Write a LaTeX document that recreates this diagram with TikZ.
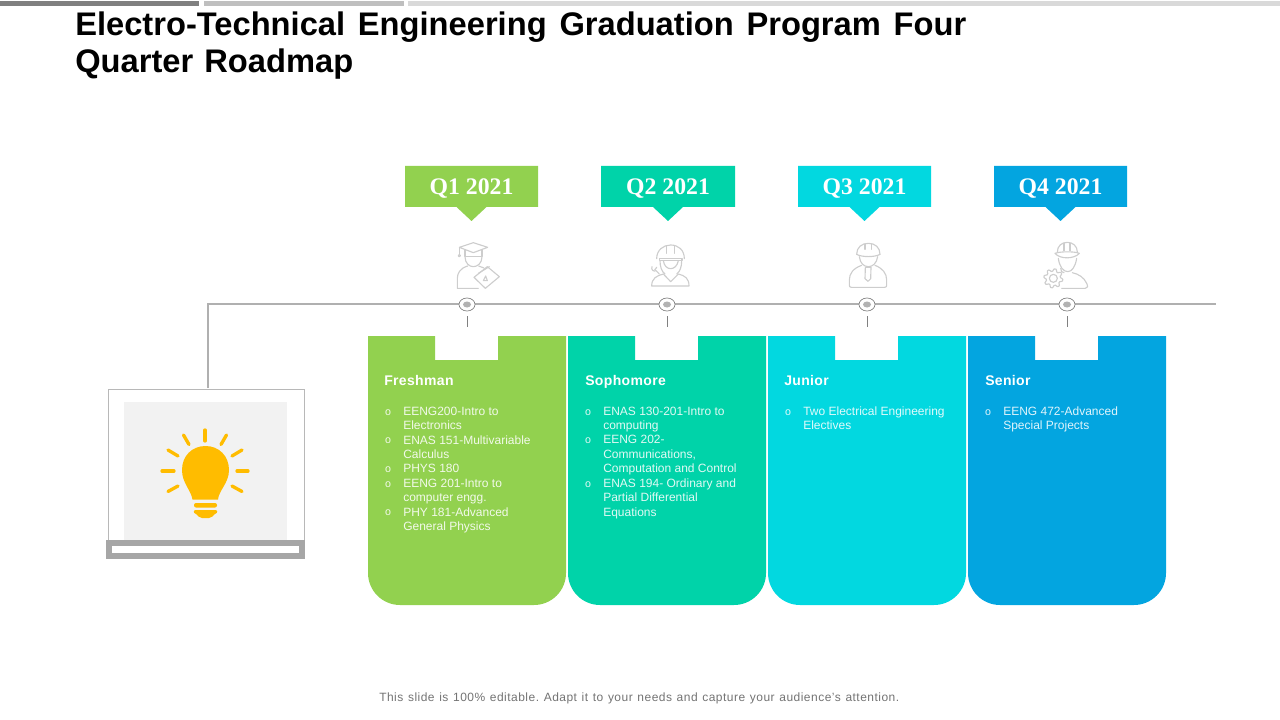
\documentclass[tikz,border=0pt]{standalone}
\usepackage{fontspec}
\setmainfont{Liberation Sans}
\newfontfamily\qfont{Liberation Serif}
\usetikzlibrary{calc}
\definecolor{cA}{HTML}{92D14F}
\definecolor{cB}{HTML}{00D3A9}
\definecolor{cC}{HTML}{02D8E0}
\definecolor{cD}{HTML}{03A5E0}
\definecolor{lineg}{HTML}{B0B0B0}
\definecolor{icong}{HTML}{CDCDCD}
\definecolor{bulb}{HTML}{FFBC00}
\tikzset{
  titletext/.style={anchor=base west,inner sep=0pt,text=black,font=\fontsize{24.5}{28}\selectfont\bfseries},
  qtext/.style={inner sep=0pt,text=white,font=\fontsize{17.8}{20}\selectfont\qfont\bfseries},
  headtext/.style={anchor=base west,inner sep=0pt,text=white,font=\fontsize{10.5}{12}\selectfont\bfseries\addfontfeature{LetterSpace=2.5}},
  bodytext/.style={anchor=north west,inner sep=0pt,align=left,text=white,text opacity=.88,font=\fontsize{9}{10.8}\selectfont},
  bullettext/.style={inner sep=0pt,text=white,text opacity=.88,font=\fontsize{8}{9}\selectfont},
  footertext/.style={anchor=base west,inner sep=0pt,text=black!55,font=\fontsize{9}{11}\selectfont\addfontfeature{LetterSpace=4}},
  tl/.style={draw=lineg,line width=1.5pt},
  stop/.style={draw=black!50,fill=white,line width=.5pt},
  ico/.style={draw=icong,line width=.85pt,line join=round,line cap=round},
  ray/.style={draw=bulb,line width=2.5pt,line cap=round},
}
\newcommand{\cardline}[4]{% name, x, row, text
  \node[bullettext] (#1b) at (#2+3,{412.3+14.4*#3}) {o};
  \node[bodytext] (#1t) at (#2+18,{406.5+14.4*#3}) {#4};
}
\begin{document}
\frenchspacing
\begin{tikzpicture}[x=0.75pt,y=-0.75pt]
\useasboundingbox (0,0) rectangle (1280,720);
% top bars
\fill[black!50] (0,1) rectangle (199,6);
\fill[black!25] (204,1) rectangle (404,6);
\fill[black!15] (408,1) rectangle (1280,6);
% title
\node[titletext] (title1) at (75,35.5) {\hbox to 668.25pt{Electro-Technical Engineering Graduation Program Four}};
\node[titletext] (title2) at (75,72.5) {\hbox to 208.5pt{Quarter Roadmap}};
% cards
\foreach \nm/\xa/\c in {ca/368/cA,cb/568/cB,cc/768/cC,cd/968/cD}{
  \fill[\c] (\xa,336) -- (\xa+67,336) -- (\xa+67,360) -- (\xa+130,360) -- (\xa+130,336) -- (\xa+198,336)
    [rounded corners=24pt] -- (\xa+198,605) -- (\xa,605) -- (\xa,500) [sharp corners] -- (\xa,336) -- cycle;
}
% q labels
\foreach \nm/\xa/\xb/\xt/\c/\lab in {qa/405/538/471.5/cA/Q1 2021,qb/601/735/668/cB/Q2 2021,qc/798/931/864.5/cC/Q3 2021,qd/994/1127/1060.5/cD/Q4 2021}{
  \fill[\c] (\xa,166) -- (\xb,166) -- (\xb,207) -- (\xt+15,207) -- (\xt,221) -- (\xt-15,207) -- (\xa,207) -- cycle;
  \node[qtext] (\nm) at (\xt,189) {\lab};
}
% timeline
\coordinate (tlstart) at (208,388);
\coordinate (tlcorner) at (208,304);
\coordinate (tlend) at (1216,304);
\draw[tl] (tlstart) -- (tlcorner) -- (tlend);
\foreach \nm/\xa in {sa/467,sb/667,sc/867,sd/1067}{
  \draw[stop] (\xa,304.5) ellipse [x radius=8,y radius=6.5];
  \fill[black!30] (\xa,304.5) ellipse [x radius=4,y radius=3];
  \coordinate (\nm t) at (\xa,316);
  \coordinate (\nm e) at (\xa,327);
  \draw[black!50,line width=.5pt] (\nm t) -- (\nm e);
}
% icon 1: graduate
\begin{scope}[shift={(400,160)},x=.25pt,y=-.25pt]
  \draw[ico,fill=white] (178,262) -- (220,248) -- (263,262) -- (220,278) -- cycle;
  \draw[ico] (178,262) -- (178,284);
  \draw[ico] (178,287) circle (3.5);
  \draw[ico] (195,270) -- (195,290) -- (246,290) -- (246,270);
  \draw[ico] (195,290) .. controls (195,310) and (208,320) .. (220,320) .. controls (232,320) and (246,310) .. (246,290);
  \draw[ico] (203,318) .. controls (180,325) and (172,340) .. (172,355) -- (172,385) -- (235,385);
  \draw[ico] (236,318) -- (252,324);
  \draw[ico] (222,352) -- (262,320) -- (298,350) -- (256,385) -- cycle;
  \draw[ico] (235,340) -- (268,320);
  \draw[ico] (250,362) -- (257,348) -- (262,362) -- cycle;
\end{scope}
% icon 2: engineer with wrench
\begin{scope}[shift={(400,160)},x=.25pt,y=-.25pt]
  \draw[ico] (770,296) .. controls (770,270) and (790,255) .. (812,255) .. controls (835,255) and (853,270) .. (853,296);
  \draw[ico] (800,257) -- (800,280) (824,257) -- (824,280);
  \draw[ico] (778,296) rectangle (846,302);
  \draw[ico] (790,302) .. controls (792,318) and (802,326) .. (812,326) .. controls (822,326) and (832,318) .. (835,302);
  \draw[ico] (780,302) .. controls (780,320) and (785,335) .. (795,342);
  \draw[ico] (845,302) .. controls (845,320) and (840,335) .. (830,342);
  \draw[ico] (755,378) .. controls (755,355) and (770,347) .. (790,342) -- (812,365) -- (835,342) .. controls (855,347) and (867,355) .. (867,378) -- cycle;
  \draw[ico] (756,320) .. controls (752,330) and (762,336) .. (768,332) -- (778,342);
  \draw[ico] (770,322) -- (764,330);
\end{scope}
% icon 3: engineer with tie
\begin{scope}[shift={(800,160)},x=.25pt,y=-.25pt]
  \draw[ico] (170,283) .. controls (170,262) and (185,250) .. (205,250) .. controls (225,250) and (240,262) .. (240,283);
  \draw[ico] (195,252) -- (195,268) (215,252) -- (215,268);
  \draw[ico] (170,283) .. controls (185,292) and (225,292) .. (240,283);
  \draw[ico] (178,290) .. controls (180,310) and (192,320) .. (205,320) .. controls (218,320) and (230,310) .. (233,290);
  \draw[ico] (185,316) .. controls (160,325) and (148,340) .. (148,360) -- (148,376) .. controls (148,380) and (150,382) .. (154,382) -- (254,382) .. controls (258,382) and (260,380) .. (260,376) -- (260,360) .. controls (260,340) and (248,325) .. (225,316);
  \draw[ico] (196,322) -- (213,322) -- (212,356) -- (204,364) -- (195,356) -- cycle;
\end{scope}
% icon 4: engineer with gear
\begin{scope}[shift={(800,160)},x=.25pt,y=-.25pt]
  \draw[ico] (772,276) .. controls (772,258) and (785,247) .. (802,247) .. controls (818,247) and (832,258) .. (832,276);
  \draw[ico] (792,250) -- (792,272) (810,272) -- (810,250);
  \draw[ico] (765,280) .. controls (780,298) and (822,298) .. (838,280) .. controls (825,274) and (780,274) .. (765,280);
  \draw[ico] (775,295) .. controls (778,320) and (790,335) .. (803,335) .. controls (816,335) and (826,320) .. (830,295);
  \draw[ico] (785,385) -- (856,385) .. controls (864,385) and (864,378) .. (860,370) .. controls (852,352) and (835,342) .. (817,338);
  \draw[ico] (782,325) .. controls (785,335) and (785,338) .. (792,338);
  \draw[ico,shift={(760,355)}] plot[samples=65,domain=0:360] ({(25+3.5*sign(sin(8*\x)))*cos(\x)},{(25+3.5*sign(sin(8*\x)))*sin(\x)}) -- cycle;
  \draw[ico] (760,355) circle (12);
\end{scope}
% laptop
\draw[draw=black!28,line width=.75pt,fill=white] (108.5,540) -- (108.5,389.5) -- (304,389.5) -- (304,540);
\fill[black!5] (124,402) rectangle (287,540);
\fill[black!35] (106,540) rectangle (305,559);
\fill[white] (112,546) rectangle (299,553);
% bulb
\foreach \xa/\ya/\xb/\yb in {205/430/205/441,183.5/435/189/444.5,226.5/435/221/444.5,168/450/178/456,242/450/232/456,162/471/174/471,248/471/237/471,168/491.5/178/486,242/491.5/232/486}{
  \draw[ray] (\xa,\ya) -- (\xb,\yb);
}
\fill[bulb] (192.5,499.5) .. controls (191,490) and (182,483) .. (182,470)
  .. controls (182,456) and (192,446) .. (205.5,446)
  .. controls (219,446) and (229,456) .. (229,470)
  .. controls (229,483) and (219,490) .. (218,499.5) -- cycle;
\fill[bulb,rounded corners=1.5pt] (194,503) rectangle (217,507.5);
\fill[bulb] (196,510) -- (215,510) .. controls (218,510) and (218,513) .. (215,514)
  .. controls (213,516) and (211,518) .. (209,518) -- (202,518) .. controls (200,518) and (198,516) .. (196,514) .. controls (193,513) and (193,510) .. (196,510) -- cycle;
% card text
\node[headtext] (h1) at (384,385.5) {Freshman};
\node[headtext] (h2) at (585,385.5) {Sophomore};
\node[headtext] (h3) at (784,385.5) {Junior};
\node[headtext] (h4) at (985,385.5) {Senior};
\cardline{fa}{385}{0}{EENG200-Intro to\\Electronics}
\cardline{fb}{385}{2}{ENAS 151-Multivariable\\Calculus}
\cardline{fc}{385}{4}{PHYS 180}
\cardline{fd}{385}{5}{EENG 201-Intro to\\computer engg.}
\cardline{fe}{385}{7}{PHY 181-Advanced\\General Physics}
\cardline{sa}{585}{0}{ENAS 130-201-Intro to\\computing}
\cardline{sb}{585}{2}{EENG 202-\\Communications,\\Computation and Control}
\cardline{sc}{585}{5}{ENAS 194- Ordinary and\\Partial Differential\\Equations}
\cardline{ja}{785}{0}{Two Electrical Engineering\\Electives}
\cardline{na}{985}{0}{EENG 472-Advanced\\Special Projects}
% footer
\node[footertext] (foot) at (379,701) {\hbox to 390pt{This slide is 100\% editable. Adapt it to your needs and capture your audience's attention.}};
\end{tikzpicture}
\end{document}
